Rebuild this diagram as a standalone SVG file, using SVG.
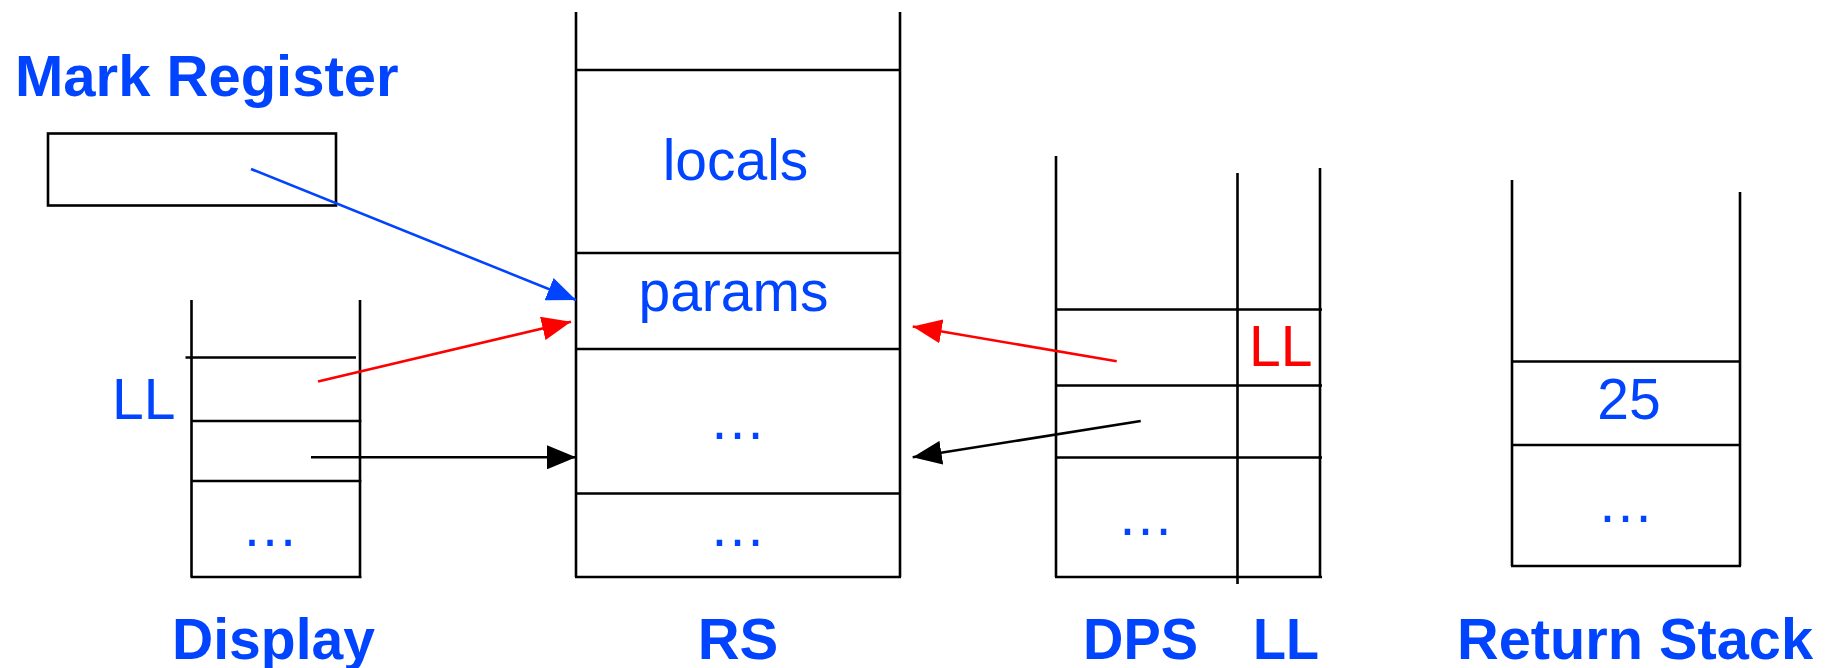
<svg xmlns="http://www.w3.org/2000/svg" width="1834" height="668" viewBox="0 0 1834 668">
<style>
.ln{stroke:#000;stroke-width:2.6;fill:none}
.t{font-family:"Liberation Sans",Arial,sans-serif;font-size:57px;fill:#0044FF}
.b{font-family:"Liberation Sans",Arial,sans-serif;font-size:58px;font-weight:bold;fill:#0044FF}
.red{fill:#FF0000}
.m{text-anchor:middle}
.ab{stroke:#0044FF;stroke-width:2.6;fill:none}
.ar{stroke:#FF0000;stroke-width:2.6;fill:none}
.ak{stroke:#000;stroke-width:2.6;fill:none}
</style>
<defs>
<marker id="hb" viewBox="0 0 29 24" refX="29" refY="12" markerWidth="29" markerHeight="24" markerUnits="userSpaceOnUse" orient="auto"><path d="M0,0 L29,12 L0,24 z" fill="#0044FF"/></marker>
<marker id="hr" viewBox="0 0 29 24" refX="29" refY="12" markerWidth="29" markerHeight="24" markerUnits="userSpaceOnUse" orient="auto"><path d="M0,0 L29,12 L0,24 z" fill="#FF0000"/></marker>
<marker id="hk" viewBox="0 0 29 24" refX="29" refY="12" markerWidth="29" markerHeight="24" markerUnits="userSpaceOnUse" orient="auto"><path d="M0,0 L29,12 L0,24 z" fill="#000"/></marker>
</defs>
<rect width="1834" height="668" fill="#fff"/>

<g id="mark-register">
<text class="b" x="15" y="96">Mark Register</text>
<rect class="ln" x="48" y="133.5" width="288" height="72"/>
</g>

<g id="rs">
<path class="ln" d="M576,12 V577 M900,12 V577 M576,70 H901 M576,253 H901 M576,349 H901 M576,493.5 H901 M575,577 H901"/>
<text class="t m" x="735.5" y="180">locals</text>
<text class="t m" x="733.5" y="311">params</text>
<text class="t m" x="737.5" y="439">…</text>
<text class="t m" x="737.5" y="546">…</text>
<text class="b m" x="738" y="659">RS</text>
</g>

<g id="display">
<path class="ln" d="M191.5,300 V577 M360,300 V577 M185.5,357.5 H356 M191.5,421 H361.5 M191.5,481 H361.5 M190.5,577 H361.5"/>
<text class="t" x="112" y="419">LL</text>
<text class="t m" x="270" y="546">…</text>
<text class="b" x="172" y="659" textLength="203" lengthAdjust="spacingAndGlyphs">Display</text>
</g>

<g id="dps">
<path class="ln" d="M1056,156 V577 M1237.5,173 V584 M1320,168 V577 M1056,309.5 H1322 M1056,385.5 H1322 M1056,457.5 H1322 M1055,577 H1322"/>
<text class="t red" x="1249" y="365.5">LL</text>
<text class="t m" x="1145.5" y="535">…</text>
<text class="b" x="1083" y="659" textLength="115" lengthAdjust="spacingAndGlyphs">DPS</text>
<text class="b" x="1253" y="659" textLength="66" lengthAdjust="spacingAndGlyphs">LL</text>
</g>

<g id="return-stack">
<path class="ln" d="M1512,180 V566 M1740,192 V566 M1512,361.5 H1741 M1512,445 H1741 M1511,566 H1741"/>
<text class="t m" x="1629" y="419">25</text>
<text class="t m" x="1625.5" y="521.5">…</text>
<text class="b" x="1457" y="659" textLength="356" lengthAdjust="spacingAndGlyphs">Return Stack</text>
</g>

<g id="connectors">
<line class="ab" x1="251" y1="169" x2="576" y2="300" marker-end="url(#hb)"/>
<line class="ar" x1="318" y1="381.5" x2="571" y2="321.7" marker-end="url(#hr)"/>
<line class="ak" x1="311" y1="457.3" x2="576" y2="457.3" marker-end="url(#hk)"/>
<line class="ar" x1="1116.7" y1="361.3" x2="912.7" y2="326.5" marker-end="url(#hr)"/>
<line class="ak" x1="1140.7" y1="421" x2="912.7" y2="457.3" marker-end="url(#hk)"/>
</g>
</svg>
